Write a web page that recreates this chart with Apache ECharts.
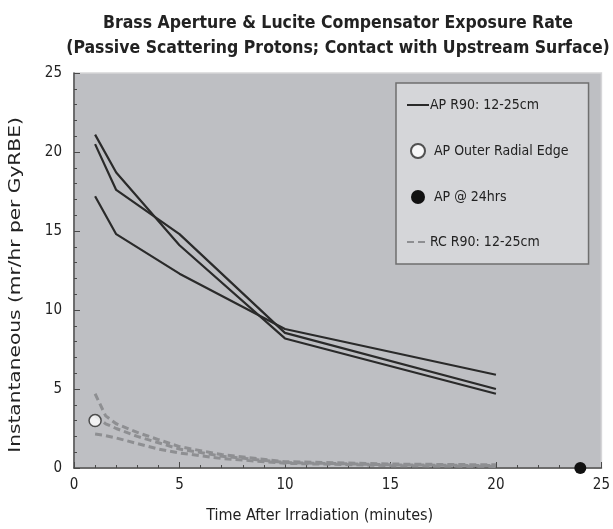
<!DOCTYPE html>
<html>
<head>
<meta charset="utf-8">
<script src="https://cdn.jsdelivr.net/npm/echarts@6/dist/echarts.min.js"></script>
<style>
  html, body { margin: 0; padding: 0; background: #fff; }
  #chart { width: 613px; height: 529px; }
</style>
</head>
<body>
<div id="chart"></div>
<script>
// AP (brass aperture) measurements
var apTime = [1, 2, 5, 10, 20];
var apLine1 = [21.1, 18.7, 14.1, 8.2, 4.7];
var apLine2 = [20.5, 17.6, 14.8, 8.55, 5.0];
var apLine3 = [17.2, 14.8, 12.3, 8.8, 5.9];

// RC (lucite compensator) measurements
var rcTime = [1, 1.5, 2, 3, 4, 5, 7, 10, 15, 20];
var rcLine1 = [4.7, 3.3, 2.8, 2.25, 1.8, 1.35, 0.85, 0.4, 0.25, 0.2];
var rcLine2 = [3.3, 2.8, 2.5, 2.0, 1.6, 1.2, 0.75, 0.35, 0.2, 0.15];
var rcLine3 = [2.15, 2.05, 1.9, 1.55, 1.2, 0.95, 0.6, 0.3, 0.15, 0.1];

var outerEdge = [[1, 3.0]];
var at24hrs = [[24, 0]];

var apName = "AP R90: 12-25cm";
var rcName = "RC R90: 12-25cm";
var edgeName = "AP Outer Radial Edge";
var hrsName = "AP @ 24hrs";
var yTitle = "Instantaneous (mr/hr per GyRBE)";

var fontFam = "DejaVu Sans Condensed";

function pairs(xs, ys) {
  return xs.map(function (x, i) { return [x, ys[i]]; });
}

function apSeries(ys) {
  return {
    name: apName,
    type: "line",
    symbol: "none",
    data: pairs(apTime, ys),
    lineStyle: { color: "#2a2a2a", width: 2.2 },
    itemStyle: { color: "#2a2a2a" },
    z: 3,
  };
}

function rcSeries(ys) {
  return {
    name: rcName,
    type: "line",
    symbol: "none",
    data: pairs(rcTime, ys),
    lineStyle: { color: "#8e8f92", width: 3, type: [7, 4] },
    itemStyle: { color: "#8e8f92" },
    z: 2,
  };
}

var axisCommon = {
  min: 0,
  max: 25,
  interval: 5,
  axisLine: { show: true, lineStyle: { color: "#4a4a4a", width: 1.5 } },
  axisTick: { show: true, inside: true, length: 6, lineStyle: { color: "#4a4a4a" } },
  minorTick: { show: true, splitNumber: 5, length: 3, lineStyle: { color: "#4a4a4a" } },
  splitLine: { show: false },
  axisLabel: { color: "#222", fontSize: 15, fontFamily: fontFam },
  nameTextStyle: { color: "#222", fontSize: 16, fontFamily: fontFam },
};

var option = {
  animation: false,
  title: {
    text: "Brass Aperture & Lucite Compensator Exposure Rate\n(Passive Scattering Protons; Contact with Upstream Surface)",
    left: 333,
    top: 6,
    textAlign: "center",
    textStyle: {
      color: "#222",
      fontSize: 17.5,
      fontWeight: "bold",
      fontFamily: fontFam,
      lineHeight: 25,
    },
  },
  grid: {
    left: 74,
    right: 10,
    top: 73,
    bottom: 58,
    show: true,
    backgroundColor: "#bebfc3",
    borderColor: "#d6d6d8",
    borderWidth: 1.5,
  },
  legend: {
    orient: "vertical",
    left: 396,
    top: 83,
    padding: [15, 20, 15, 10],
    itemWidth: 22,
    itemHeight: 14,
    itemGap: 31,
    backgroundColor: "#d5d6d9",
    borderColor: "#6f6f6f",
    borderWidth: 1.5,
    textStyle: { color: "#222", fontSize: 14, fontFamily: fontFam },
    data: [
      { name: apName, itemStyle: { opacity: 0 }, textStyle: { padding: [0, 0, 0, -4] } },
      { name: edgeName },
      { name: hrsName },
      { name: rcName, itemStyle: { opacity: 0 }, textStyle: { padding: [0, 0, 0, -4] } },
    ],
  },
  // y title drawn as text so it can be stretched along its length like the source figure
  graphic: [
    {
      type: "text",
      x: 16,
      y: 285,
      rotation: Math.PI / 2,
      scaleX: 1.4,
      style: {
        text: yTitle,
        fill: "#222",
        font: "16px '" + fontFam + "'",
        align: "center",
        verticalAlign: "middle",
      },
    },
  ],
  xAxis: Object.assign({}, axisCommon, {
    type: "value",
    name: "Time After Irradiation (minutes)",
    nameLocation: "middle",
    nameGap: 40,
    axisLabel: Object.assign({}, axisCommon.axisLabel, { margin: 10 }),
    nameTextStyle: Object.assign({}, axisCommon.nameTextStyle, { padding: [0, 36, 0, 0] }),
  }),
  yAxis: Object.assign({}, axisCommon, {
    type: "value",
    axisLabel: Object.assign({}, axisCommon.axisLabel, { margin: 12 }),
  }),
  series: [
    apSeries(apLine1),
    apSeries(apLine2),
    apSeries(apLine3),
    rcSeries(rcLine1),
    rcSeries(rcLine2),
    rcSeries(rcLine3),
    {
      name: edgeName,
      type: "scatter",
      data: outerEdge,
      symbolSize: 12,
      itemStyle: { color: "#ffffff", borderColor: "#2a2a2a", borderWidth: 1.5 },
      z: 5,
    },
    {
      name: hrsName,
      type: "scatter",
      data: at24hrs,
      symbolSize: 12,
      clip: false,
      itemStyle: { color: "#111111", opacity: 1 },
      z: 5,
    },
  ],
};

var chart = echarts.init(document.getElementById("chart"));
chart.setOption(option);
window.addEventListener("resize", function () { chart.resize(); });
</script>
</body>
</html>
